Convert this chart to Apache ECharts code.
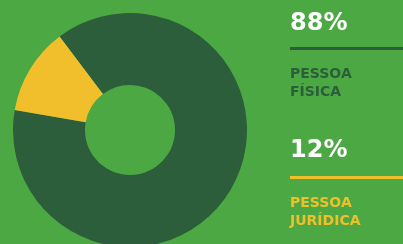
<!DOCTYPE html>
<html>
<head>
<meta charset="utf-8">
<script src="https://cdn.jsdelivr.net/npm/echarts@6/dist/echarts.min.js"></script>
<style>
  html, body { margin: 0; padding: 0; background: #4ca843; }
  #chart { width: 403px; height: 244px; }
</style>
</head>
<body>
<div id="chart"></div>
<script>
// dados do gráfico
const categories = ['PESSOA\nFÍSICA', 'PESSOA\nJURÍDICA']
const values = [88, 12]
const colors = ['#2c5e3b', '#f1bf2b']

let chart = echarts.init(document.getElementById('chart'))

// textos à direita (percentual, linha, categoria)
let graphics = []
let blockTop = [24, 151]
let lineGap = [23, 25]
values.forEach((v, i) => {
  let y = blockTop[i]
  graphics.push({
    type: 'text',
    left: 290,
    top: y - 12,
    style: {
      text: v + '%',
      fill: '#ffffff',
      font: 'bold 24px "DejaVu Sans"'
    }
  })
  graphics.push({
    type: 'rect',
    shape: { x: 290, y: y + lineGap[i], width: 113, height: 3 },
    style: { fill: colors[i] }
  })
  graphics.push({
    type: 'text',
    left: 290,
    top: y + lineGap[i] + 18,
    style: {
      text: categories[i],
      fill: colors[i],
      font: 'bold 14px "DejaVu Sans"',
      lineHeight: 18
    }
  })
})

let options = {
  backgroundColor: '#4ca843',
  animation: false,
  color: colors,
  graphic: graphics,
  series: [
    {
      type: 'pie',
      center: [130, 130],
      radius: [45, 117],
      startAngle: 127,
      clockwise: true,
      label: { show: false },
      labelLine: { show: false },
      silent: true,
      data: categories.map((c, i) => ({ name: c, value: values[i] }))
    }
  ]
}
chart.setOption(options)
</script>
</body>
</html>
